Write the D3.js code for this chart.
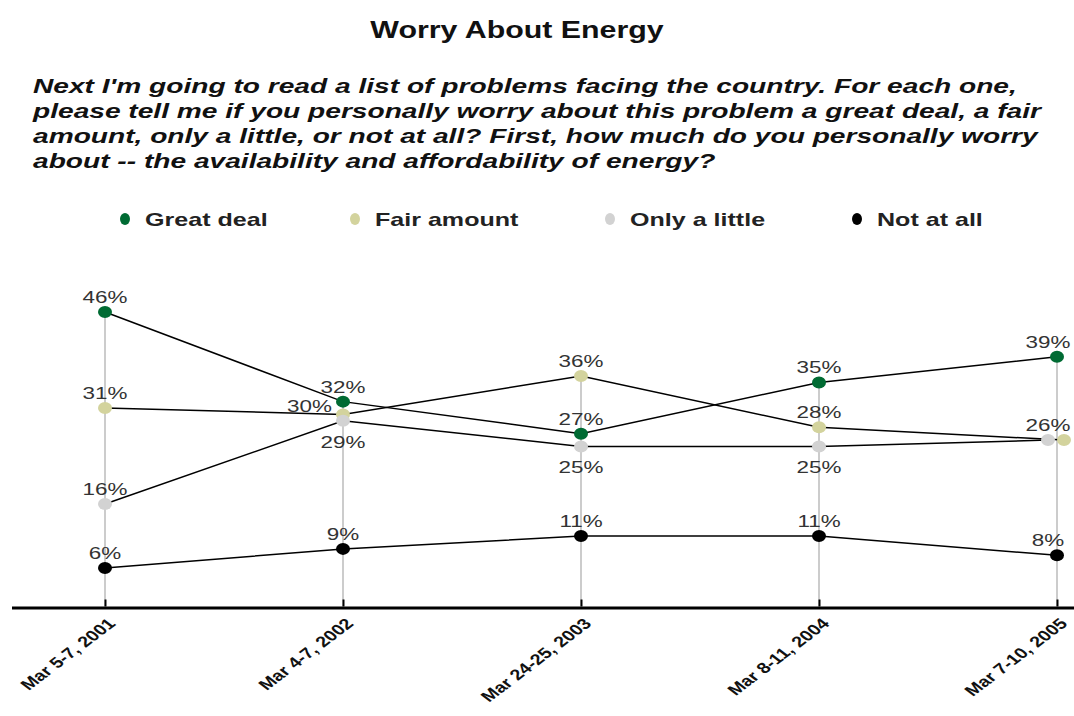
<!DOCTYPE html>
<html>
<head>
<meta charset="utf-8">
<script src="https://cdn.jsdelivr.net/npm/d3@7"></script>
<style>
  body { margin: 0; background: #fff; }
  svg { font-family: "Liberation Sans", Arial, sans-serif; }
</style>
</head>
<body>
<svg id="chart" width="1074" height="716"></svg>
<script>
// data
var dates = ["Mar 5-7, 2001", "Mar 4-7, 2002", "Mar 24-25, 2003", "Mar 8-11, 2004", "Mar 7-10, 2005"];
var seriesNames = ["Great deal", "Fair amount", "Only a little", "Not at all"];
var greatDeal = [46, 32, 27, 35, 39];
var fairAmount = [31, 30, 36, 28, 26];
var onlyLittle = [16, 29, 25, 25, 26];
var notAtAll = [6, 9, 11, 11, 8];
var colors = ["#006b33", "#d3d39d", "#d2d2d2", "#000000"];

var allSeries = [greatDeal, fairAmount, onlyLittle, notAtAll];

// where the value label goes: "above" (default), "below", "left", "none"
var labelPlace = {
   "2-1": "below", "2-2": "below", "2-3": "below",
   "1-1": "left", "2-4": "none"
};
// small horizontal nudge for markers that share a spot
var markerNudge = { "2-4": -9, "1-4": 7 };

// the original picture is stretched sideways, so text is too
var SX = 1.32;
function stretch(sel, sx) {
   sel.each(function () {
      var t = d3.select(this);
      var tx = +t.attr("x") || 0, ty = +t.attr("y") || 0;
      t.attr("x", 0).attr("y", 0)
       .attr("transform", "translate(" + tx + "," + ty + ") scale(" + (sx || SX) + ",1)");
   });
}

var svg = d3.select("#chart");

svg.append("text")
   .attr("x", 517).attr("y", 38)
   .attr("text-anchor", "middle")
   .style("font-weight", "bold").style("font-size", "23px").attr("fill", "#111")
   .text("Worry About Energy")
   .call(stretch);

var question = [
   "Next I'm going to read a list of problems facing the country. For each one,",
   "please tell me if you personally worry about this problem a great deal, a fair",
   "amount, only a little, or not at all? First, how much do you personally worry",
   "about -- the availability and affordability of energy?"
];
svg.append("g").selectAll("text")
   .data(question)
   .enter().append("text")
   .attr("x", 33)
   .attr("y", function (d, i) { return 93 + i * 25; })
   .style("font-weight", "bold").style("font-style", "italic").style("font-size", "21px")
   .attr("fill", "#111")
   .text(function (d) { return d; })
   .call(stretch, 1.34);

// legend
var legendX = [125, 355, 610, 857];
var legend = svg.append("g").selectAll("g")
   .data(seriesNames)
   .enter().append("g")
   .attr("transform", function (d, i) { return "translate(" + legendX[i] + ",219)"; });
legend.append("ellipse").attr("rx", 5).attr("ry", 6)
   .attr("fill", function (d, i) { return colors[i]; });
legend.append("text").attr("x", 20).attr("y", 7)
   .style("font-weight", "bold").style("font-size", "19px").attr("fill", "#222")
   .text(function (d) { return d; })
   .call(stretch);

// scales
var x = d3.scalePoint().domain(dates).range([105, 1057]);
var y = d3.scaleLinear().domain([0, 46]).range([606.5, 312]);

var g = svg.append("g");

// drop lines from highest point down to axis
g.append("g").selectAll("line")
   .data(dates)
   .enter().append("line")
   .attr("x1", function (d) { return x(d); })
   .attr("x2", function (d) { return x(d); })
   .attr("y1", function (d, i) { return y(d3.max(allSeries, function (s) { return s[i]; })); })
   .attr("y2", y(0))
   .attr("stroke", "#cccccc").attr("stroke-width", 2);

// axis
var xAxis = g.append("g")
   .attr("transform", "translate(0," + y(0) + ")")
   .call(d3.axisBottom(x).tickSize(0).tickPadding(0));
xAxis.select(".domain").remove();
xAxis.append("line").attr("x1", 12).attr("x2", 1074).attr("y1", 1.5).attr("y2", 1.5)
   .attr("stroke", "#000").attr("stroke-width", 3);
xAxis.selectAll(".tick").append("line").attr("y1", 0).attr("y2", -7)
   .attr("stroke", "#000").attr("stroke-width", 2);
xAxis.selectAll(".tick text")
   .attr("transform", "translate(11,18) scale(" + SX + ",1) rotate(-45)")
   .attr("text-anchor", "end")
   .attr("dy", 0).attr("y", 0)
   .attr("fill", "#111")
   .style("font-weight", "bold").style("font-size", "15px").style("font-family", "'Liberation Sans', Arial, sans-serif");

function px(si, i) {
   return x(dates[i]) + (markerNudge[si + "-" + i] || 0);
}

var line = d3.line()
   .x(function (d) { return d.x; })
   .y(function (d) { return y(d.v); });

allSeries.forEach(function (s, si) {
   var pts = s.map(function (v, i) { return { v: v, x: px(si, i), i: i }; });
   g.append("path").datum(pts)
      .attr("d", line)
      .attr("fill", "none").attr("stroke", "#000").attr("stroke-width", 1.5);
});

var lastIndex = dates.length - 1;
allSeries.forEach(function (s, si) {
   var pts = s.map(function (v, i) { return { v: v, x: px(si, i), i: i }; });
   g.append("g").selectAll("ellipse")
      .data(pts).enter().append("ellipse")
      .attr("cx", function (d) { return d.x; })
      .attr("cy", function (d) { return y(d.v); })
      .attr("rx", 7).attr("ry", 6)
      .attr("fill", colors[si]);

   g.append("g").selectAll("text")
      .data(pts.filter(function (d) { return labelPlace[si + "-" + d.i] !== "none"; }))
      .enter().append("text")
      .attr("x", function (d) {
         var p = labelPlace[si + "-" + d.i];
         if (p === "left") return x(dates[d.i]) - 11;
         // keep the last column's labels inside the page
         if (d.i === lastIndex) return x(dates[d.i]) - 9;
         return x(dates[d.i]);
      })
      .attr("y", function (d) {
         var p = labelPlace[si + "-" + d.i];
         if (p === "below") return y(d.v) + 27;
         if (p === "left") return y(d.v) - 2;
         return y(d.v) - 9;
      })
      .attr("text-anchor", function (d) {
         return labelPlace[si + "-" + d.i] === "left" ? "end" : "middle";
      })
      .style("font-size", "17px").attr("fill", "#333")
      .text(function (d) { return d.v + "%"; })
      .call(stretch);
});
</script>
</body>
</html>
